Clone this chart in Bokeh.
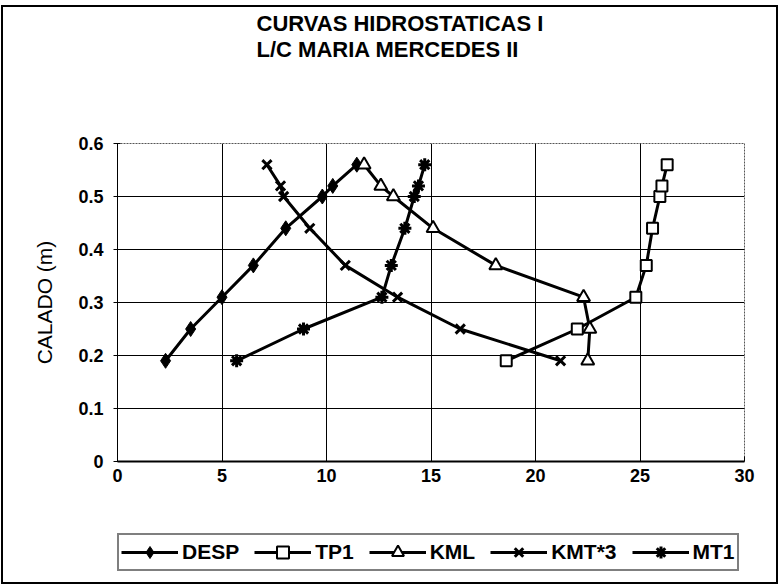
from bokeh.plotting import figure
from bokeh.layouts import column
from bokeh.models import Legend, LegendItem, Title, Range1d, FixedTicker
from bokeh.embed import file_html
from bokeh.resources import INLINE

# Data (calado in m)
calado = [0.19, 0.25, 0.31, 0.37, 0.44, 0.50, 0.52, 0.56]
desp = [2.3, 3.5, 5.0, 6.5, 8.05, 9.8, 10.3, 11.45]
tp1 = [18.6, 22.0, 24.8, 25.3, 25.6, 25.95, 26.05, 26.3]
kml = [22.5, 22.6, 22.3, 18.1, 15.1, 13.2, 12.6, 11.8]
kmt3 = [21.2, 16.4, 13.4, 10.9, 9.2, 7.95, 7.8, 7.15]
mt1 = [5.7, 8.9, 12.65, 13.1, 13.75, 14.2, 14.4, 14.7]

x_ticks = [0, 5, 10, 15, 20, 25, 30]
y_ticks = [0, 0.1, 0.2, 0.3, 0.4, 0.5, 0.6]
title_lines = ["CURVAS HIDROSTATICAS I", "L/C MARIA MERCEDES II"]

FONT = "Liberation Sans"

series = [
    ("DESP", desp, dict(marker="diamond", size=15, fill_color="black", line_color="black")),
    ("TP1", tp1, dict(marker="square", size=11, fill_color="white", line_color="black", line_width=2)),
    ("KML", kml, dict(marker="triangle", size=13, fill_color="white", line_color="black", line_width=2)),
    ("KMT*3", kmt3, dict(marker="x", size=13, line_color="black", line_width=3)),
    ("MT1", mt1, dict(marker="asterisk", size=13, line_color="black", line_width=3)),
]

p = figure(frame_width=627, frame_height=318,
           min_border_left=114, min_border_right=32,
           min_border_top=136, min_border_bottom=40,
           x_range=Range1d(0, 30), y_range=Range1d(0, 0.6),
           output_backend="svg", toolbar_location=None,
           background_fill_color="white", border_fill_color="white")

p.outline_line_color = "#555555"
p.outline_line_dash = "2 1"
p.outline_line_width = 1

# axes
p.xaxis.ticker = FixedTicker(ticks=x_ticks)
p.yaxis.ticker = FixedTicker(ticks=y_ticks)
p.yaxis.major_label_overrides = {0: "0"}
for ax in (p.xaxis[0], p.yaxis[0]):
    ax.major_label_text_font = FONT
    ax.major_label_text_font_style = "bold"
    ax.major_label_text_font_size = "18px"
    ax.major_label_text_color = "black"
    ax.axis_line_color = "black"
    ax.major_tick_line_color = "black"
    ax.minor_tick_line_color = None
p.xaxis.axis_line_width = 2
p.xaxis.major_tick_in = 5
p.xaxis.major_tick_out = 0
p.xaxis.major_label_standoff = 7
p.yaxis.major_tick_in = 3
p.yaxis.major_tick_out = 4
p.yaxis.major_label_standoff = 10
p.yaxis.axis_label = "CALADO (m)"
p.yaxis.axis_label_text_font = FONT
p.yaxis.axis_label_text_font_style = "normal"
p.yaxis.axis_label_text_font_size = "21px"
p.yaxis.axis_label_text_color = "black"
p.yaxis.axis_label_standoff = 19

p.xgrid.grid_line_color = "black"
p.ygrid.grid_line_color = "black"
p.xgrid.grid_line_width = 1
p.ygrid.grid_line_width = 1

LW = 3
for name, xs, mk in series:
    p.line(xs, calado, line_color="black", line_width=LW)
    p.scatter(xs, calado, **mk)

title = Title(text="\n".join(title_lines + [" ", " ", " "]), align="left", offset=139,
              vertical_align="top", text_line_height=1.05,
              text_font=FONT, text_font_style="bold", text_font_size="22px",
              text_color="black", standoff=2)
p.add_layout(title, "above")

# legend strip: same series, drawn outside its visible range, only the legend shows
q = figure(width=773, height=81, min_border=0,
           x_range=Range1d(100, 101), y_range=Range1d(0, 0.6),
           output_backend="svg", toolbar_location=None,
           background_fill_color="white", border_fill_color="white")
q.axis.visible = False
q.grid.visible = False
q.outline_line_color = None

items = []
for name, xs, mk in series:
    rl = q.line(xs, calado, line_color="black", line_width=LW)
    rm = q.scatter(xs, calado, **mk)
    items.append(LegendItem(label=name, renderers=[rl, rm]))

legend = Legend(items=items, orientation="horizontal", location=(0, 11),
                label_text_font=FONT, label_text_font_style="bold",
                label_text_font_size="21px", label_text_color="black",
                glyph_width=57, glyph_height=30, label_standoff=4, spacing=15,
                padding=2, margin=0, border_line_color="black", border_line_width=2,
                background_fill_alpha=1)
q.add_layout(legend)

layout = column(p, q, spacing=0,
                styles={"border": "2px solid black", "margin-left": "1px",
                        "margin-top": "5px"})

open("out.html", "w").write(file_html(layout, INLINE))
